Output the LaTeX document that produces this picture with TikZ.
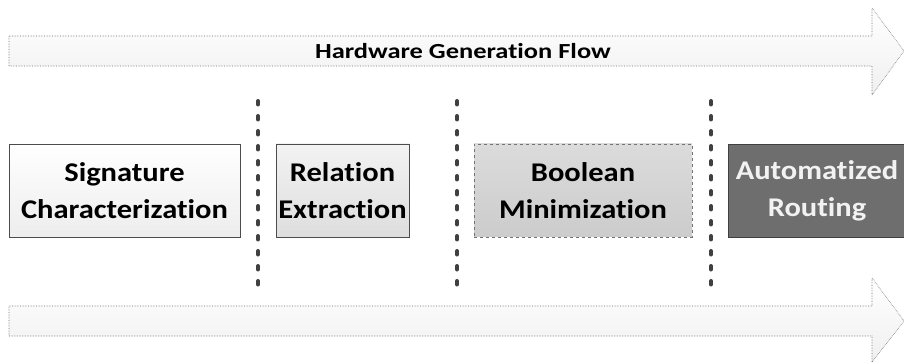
\documentclass[tikz,border=0pt]{standalone}
\usepackage{fontspec}
\setmainfont{Carlito}
\newfontfamily\stagefont[FakeStretch=1.13, Ligatures=NoCommon]{Carlito}
\newfontfamily\titlefont[FakeStretch=1.23, Ligatures=NoCommon]{Carlito}
\begin{document}
\begin{tikzpicture}[x=1pt,y=-1pt,
  flowarrow/.style={draw=black!55, line width=0.6pt, densely dotted,
    top color=white, bottom color=black!6},
  stagebox/.style={draw=black!70, line width=0.8pt, minimum height=93pt,
    inner sep=0pt, align=center,
    font=\stagefont\fontsize{27}{37}\selectfont\bfseries},
  divider/.style={draw=black!75, line width=4pt, line cap=round,
    dash pattern=on 3.5pt off 11.5pt}]
\clip (0,0) rectangle (904,363);
\fill[white] (0,0) rectangle (904,363);

% upper flow arrow with its title
\draw[flowarrow] (9,36) -- (872,36) -- (872,8) -- (904,51) -- (872,95)
  -- (872,66) -- (9,66) -- cycle;
\node[font=\titlefont\fontsize{21.5}{24}\selectfont\bfseries] (title) at (463,51)
  {Hardware Generation Flow};

% lower flow arrow
\draw[flowarrow] (9,306) -- (872,306) -- (872,278) -- (904,321) -- (872,362)
  -- (872,336) -- (9,336) -- cycle;

% stages
\node[stagebox, minimum width=231pt, top color=white, bottom color=black!7]
  (sig) at (124.5,190.5) {Signature\\Characterization};
\node[stagebox, minimum width=133pt, top color=black!5, bottom color=black!13]
  (rel) at (342.5,190.5) {Relation\\Extraction};
\node[stagebox, minimum width=218pt, draw=black!55, dashed, line width=0.6pt,
  top color=black!14, bottom color=black!20]
  (bool) at (583,190.5) {Boolean\\Minimization};
\node[stagebox, minimum width=178pt, fill=black!57, draw=black!75,
  text=black!5] (route) at (817,190.5) {Automatized\\Routing};

% separators between stages
\coordinate (d1t) at (258,101); \coordinate (d1b) at (258,290);
\coordinate (d2t) at (457,101); \coordinate (d2b) at (457,290);
\coordinate (d3t) at (711,101); \coordinate (d3b) at (711,290);
\draw[divider] (d1t) -- (d1b);
\draw[divider] (d2t) -- (d2b);
\draw[divider] (d3t) -- (d3b);
\end{tikzpicture}
\end{document}
